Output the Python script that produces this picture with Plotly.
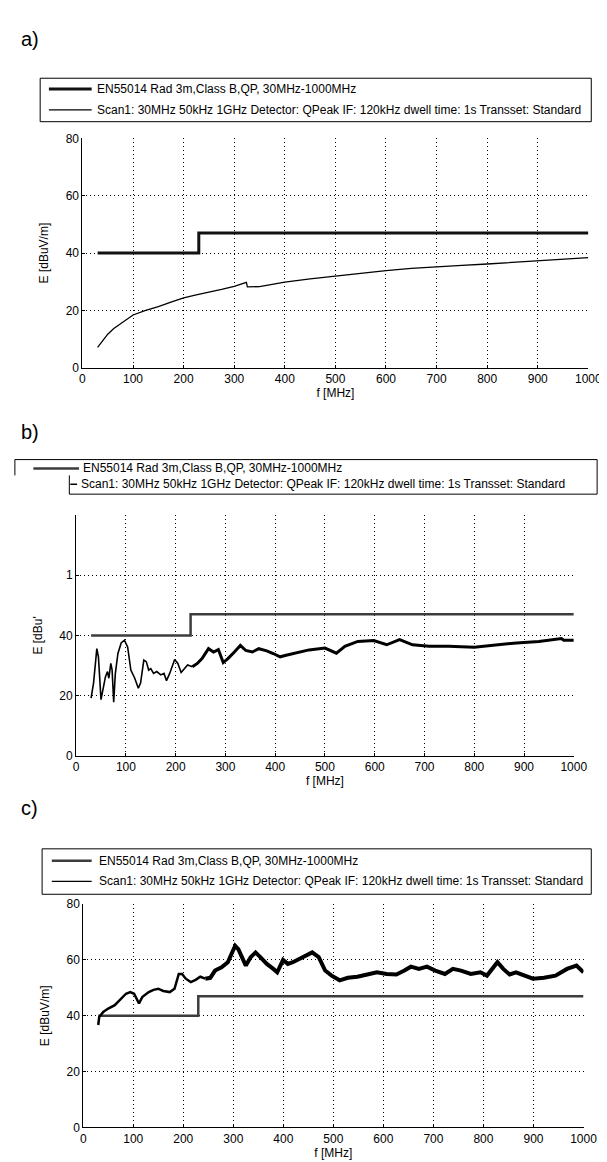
import plotly.graph_objects as go

W, H = 607, 1162

# ---------------- data ----------------
limit_f = [30, 230, 230, 1000]
limit_e = [40, 40, 47, 47]

a_f = [30, 40, 50, 62, 75, 88, 100, 125, 150, 175, 200, 225, 250, 275, 300, 310, 320, 324, 326, 350, 375,
       400, 450, 500, 550, 600, 650, 700, 750, 800, 850, 900, 950, 1000]
a_e = [7.1, 9.6, 11.7, 13.7, 15.4, 17.0, 18.4, 20.0, 21.3, 22.9, 24.4, 25.4, 26.3, 27.3, 28.4, 28.9, 29.5, 29.8,
       28.2, 28.3, 29.1, 29.9, 31.0, 32.0, 33.0, 33.9, 34.7, 35.3, 35.7, 36.2, 36.8, 37.4, 37.9, 38.4]

b_f = [30, 35, 41.6, 44.8, 50, 54.7, 59, 63, 65.8, 69.7, 72.3, 75.5, 78.8, 84, 90.5, 97, 103.5, 110, 117.8, 125,
       129.5, 136, 141, 145.8, 150, 155.6, 162, 170, 176.5, 181.6, 188, 198, 204.4, 211, 217, 224, 233.5, 243.5,
       253, 266, 276, 285.8, 295.6, 305, 318, 330, 341, 354, 367, 383, 396, 410, 422, 442, 461, 468, 500, 523,
       540, 566, 598, 624, 650, 676, 709, 748, 800, 839, 885, 930, 975, 980, 1000]
b_e = [19.2, 24.2, 35.6, 32.9, 18.7, 23.0, 26.3, 28.0, 25.8, 30.7, 28.5, 17.8, 27.4, 34.0, 37.5, 38.4, 36.2, 28.5,
       25.8, 22.5, 24.2, 31.8, 31.3, 28.5, 29.0, 27.4, 28.0, 26.9, 27.4, 25.0, 27.4, 32.0, 30.7, 27.7, 29.0, 30.2,
       29.6, 30.7, 32.3, 35.6, 34.5, 35.3, 31.0, 32.3, 34.5, 36.7, 35.0, 34.5, 35.6, 34.9, 34.0, 32.9, 33.4, 34.2,
       34.9, 35.2, 35.8, 34.1, 36.4, 38.0, 38.3, 36.9, 38.6, 36.9, 36.4, 36.4, 36.1, 36.8, 37.5, 38.0, 39.0, 38.4, 38.4]

c_f = [30, 32, 40, 50, 63, 76, 85.5, 94, 101.7, 111.5, 118, 131, 140.5, 150, 160, 173, 182.5, 191, 197.5, 205, 215,
       224.7, 234, 244, 254, 263.5, 276.5, 289, 297, 303.7, 310, 318.4, 325, 334.7, 344.5, 354, 367, 380, 387.8,
       399.4, 409, 419, 438, 457.7, 470.7, 483.6, 496.5, 512.6, 529, 548, 567.8, 587, 606.6, 626, 642, 655, 671,
       687, 703.7, 723, 739, 755, 774.8, 794, 807, 817, 828, 839.6, 852.4, 865, 884, 899, 921, 944, 967, 986, 1000]
c_e = [36.7, 39.6, 41.4, 42.6, 43.8, 46.2, 47.9, 48.5, 47.9, 44.4, 46.7, 48.5, 49.3, 49.7, 48.9, 48.5, 49.7, 55.0,
       55.0, 53.3, 52.1, 52.9, 54.0, 53.3, 53.6, 56.2, 57.4, 59.2, 62.7, 65.1, 63.9, 60.4, 58.0, 61.0, 62.7, 61.0,
       58.6, 56.8, 55.6, 60.0, 58.6, 59.2, 61.0, 62.7, 61.0, 56.2, 54.4, 52.7, 53.6, 54.0, 54.8, 55.6, 55.0, 54.8,
       56.2, 57.6, 56.8, 57.6, 56.2, 55.0, 56.8, 56.2, 55.0, 55.6, 54.4, 56.8, 59.2, 56.8, 54.8, 55.6, 54.4, 53.3,
       53.6, 54.4, 56.8, 58.0, 55.6]

x_ticks = [0, 100, 200, 300, 400, 500, 600, 700, 800, 900, 1000]
y_ticks = [0, 20, 40, 60, 80]
y_ticktext_ac = ["0", "20", "40", "60", "80"]
y_ticktext_b = ["0", "20", "40", "1", ""]

legend_limit = "EN55014 Rad 3m,Class B,QP, 30MHz-1000MHz"
legend_scan = "Scan1: 30MHz 50kHz 1GHz Detector: QPeak IF: 120kHz dwell time: 1s Transset: Standard"
panel_labels = ["a)", "b)", "c)"]

FONT = "Liberation Sans, Arial, sans-serif"
GRIDDASH = "1px,3px"


def px(x):
    return x / W


def py(y):
    return 1 - y / H


fig = go.Figure()

# split index where the scans become dense / noisy (thicker band)
kb = b_f.index(233.5)
kc = c_f.index(244)

# panel a
fig.add_trace(go.Scatter(x=limit_f, y=limit_e, mode="lines", line=dict(color="#111", width=3),
                         xaxis="x", yaxis="y", showlegend=False))
fig.add_trace(go.Scatter(x=a_f, y=a_e, mode="lines", line=dict(color="#000", width=1.3),
                         xaxis="x", yaxis="y", showlegend=False))
# panel b
fig.add_trace(go.Scatter(x=limit_f, y=limit_e, mode="lines", line=dict(color="#3c3c3c", width=2.5),
                         xaxis="x2", yaxis="y2", showlegend=False))
fig.add_trace(go.Scatter(x=b_f[:kb + 1], y=b_e[:kb + 1], mode="lines", line=dict(color="#000", width=1.6),
                         xaxis="x2", yaxis="y2", showlegend=False))
fig.add_trace(go.Scatter(x=b_f[kb:], y=b_e[kb:], mode="lines", line=dict(color="#000", width=3),
                         xaxis="x2", yaxis="y2", showlegend=False))
# panel c
fig.add_trace(go.Scatter(x=limit_f, y=limit_e, mode="lines", line=dict(color="#3c3c3c", width=2.5),
                         xaxis="x3", yaxis="y3", showlegend=False))
fig.add_trace(go.Scatter(x=c_f[:kc + 1], y=c_e[:kc + 1], mode="lines", line=dict(color="#000", width=2.5),
                         xaxis="x3", yaxis="y3", showlegend=False))
fig.add_trace(go.Scatter(x=c_f[kc:], y=c_e[kc:], mode="lines", line=dict(color="#000", width=4),
                         xaxis="x3", yaxis="y3", showlegend=False))

# axes domains in pixels: (left, right, top, bottom)
doms = [(73.5, 594, 125, 357), (67, 579, 506, 750), (74.3, 589, 900, 1126)]
ytitles = ["E [dBuV/m]", "E [dBu'", "E [dBuV/m]"]
yttexts = [y_ticktext_ac, y_ticktext_b, y_ticktext_ac]

for i, (l, r, t, b) in enumerate(doms):
    sfx = "" if i == 0 else str(i + 1)
    xa = dict(domain=[px(l), px(r)], range=[0, 1000], tickvals=x_ticks, ticktext=[str(v) for v in x_ticks],
              showgrid=True, gridcolor="#000", griddash=GRIDDASH, gridwidth=1,
              showline=True, linecolor="#000", linewidth=1, mirror=False,
              ticks="inside", ticklen=3, tickcolor="#000", zeroline=False,
              tickfont=dict(family=FONT, size=12, color="#000"),
              title=dict(text="f [MHz]", font=dict(family=FONT, size=12, color="#000"), standoff=2),
              anchor="y" + sfx, fixedrange=True)
    ya = dict(domain=[py(b), py(t)], range=[0, 80], tickvals=y_ticks, ticktext=yttexts[i],
              showgrid=True, gridcolor="#000", griddash=GRIDDASH, gridwidth=1,
              showline=True, linecolor="#000", linewidth=1, mirror=False,
              ticks="inside", ticklen=3, tickcolor="#000", zeroline=False,
              tickfont=dict(family=FONT, size=12, color="#000"),
              title=dict(text=ytitles[i], font=dict(family=FONT, size=12, color="#000"), standoff=14),
              anchor="x" + sfx, fixedrange=True)
    fig.layout["xaxis" + sfx] = xa
    fig.layout["yaxis" + sfx] = ya

shapes = []
annotations = []


def hline(x0, x1, y, width, color):
    shapes.append(dict(type="line", xref="paper", yref="paper", x0=px(x0), x1=px(x1), y0=py(y), y1=py(y),
                       line=dict(color=color, width=width)))


def vline(x, y0, y1, width=1, color="#000"):
    shapes.append(dict(type="line", xref="paper", yref="paper", x0=px(x), x1=px(x), y0=py(y0), y1=py(y1),
                       line=dict(color=color, width=width)))


def text(x, y, s, size=12):
    annotations.append(dict(x=px(x), y=py(y), xref="paper", yref="paper", text=s, showarrow=False,
                            xanchor="left", yanchor="middle", font=dict(family=FONT, size=size, color="#000")))


# legend a
shapes.append(dict(type="rect", xref="paper", yref="paper", x0=px(30), x1=px(597), y0=py(108), y1=py(64),
                   line=dict(color="#000", width=1)))
hline(39, 83, 75, 3, "#111")
hline(39, 83, 96, 1.3, "#000")
text(86, 75, legend_limit)
text(86, 96, legend_scan)

# legend b (irregular frame as in the reference)
hline(4, 603, 450, 1, "#000")
vline(4, 450, 466)
vline(60, 466, 485)
hline(60, 603, 485, 1, "#000")
vline(603, 450, 485)
hline(23, 70, 459, 2.5, "#3c3c3c")
hline(61, 68, 475, 1.5, "#000")
text(72, 459, legend_limit)
text(70, 475, legend_scan)

# legend c
shapes.append(dict(type="rect", xref="paper", yref="paper", x0=px(32), x1=px(597), y0=py(890), y1=py(844),
                   line=dict(color="#000", width=1)))
hline(42, 83, 856, 2.5, "#3c3c3c")
hline(42, 83, 877, 1.3, "#000")
text(88, 856, legend_limit)
text(88, 877, legend_scan)

# panel labels
text(8, 24, panel_labels[0], size=20)
text(8, 422, panel_labels[1], size=20)
text(8, 803, panel_labels[2], size=20)

fig.update_layout(width=W, height=H, autosize=False, margin=dict(l=0, r=0, t=0, b=0),
                  paper_bgcolor="white", plot_bgcolor="white", shapes=shapes, annotations=annotations,
                  showlegend=False, font=dict(family=FONT, size=12, color="#000"))

fig.write_html("out.html", config={"displayModeBar": False})
